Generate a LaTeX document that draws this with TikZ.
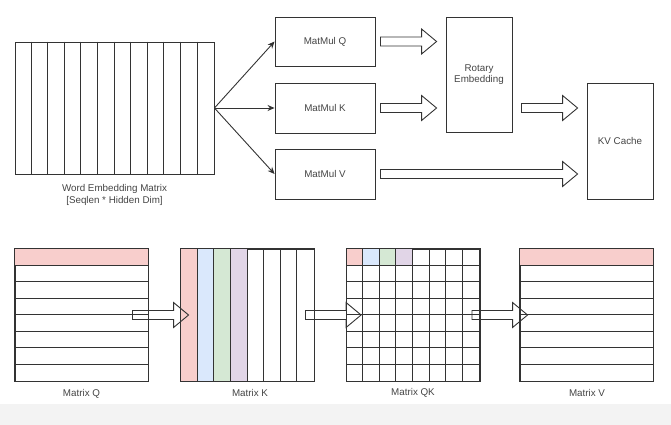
\documentclass[tikz,border=0pt]{standalone}
\usepackage{fontspec}
\setmainfont{Liberation Sans}
\usetikzlibrary{calc,arrows.meta}
\definecolor{ln}{HTML}{333333}
\definecolor{tx}{HTML}{444444}
\definecolor{cpink}{HTML}{F8CECC}
\definecolor{cblue}{HTML}{DAE8FC}
\definecolor{cgreen}{HTML}{D5E8D4}
\definecolor{cpurple}{HTML}{E1D5E7}
\definecolor{band}{HTML}{F3F3F3}
\tikzset{
  box/.style={draw=ln, line width=0.9pt, inner sep=0pt, text=tx, font=\fontsize{9.8}{11.5}\selectfont, align=center},
  mat/.style={draw=ln, line width=0.9pt, inner sep=0pt, minimum width=133pt, minimum height=132pt},
  grid/.style={draw=ln, line width=0.9pt},
  lbl/.style={text=tx, font=\fontsize{9.8}{12}\selectfont, align=center, inner sep=0pt},
  thin/.style={draw=ln, line width=0.9pt, -{Stealth[length=7pt,width=6pt]}},
  barrow/.style={draw=ln, line width=0.9pt, line join=miter,
    to path={let \p1=(\tikztostart), \p2=(\tikztotarget) in
      (\x1,\y1+4.5pt) -- (\x2-15pt,\y1+4.5pt) -- (\x2-15pt,\y1+12.5pt) -- (\x2,\y1)
      -- (\x2-15pt,\y1-12.5pt) -- (\x2-15pt,\y1-4.5pt) -- (\x1,\y1-4.5pt) -- cycle}}
}
\begin{document}
\begin{tikzpicture}[x=1pt,y=-1pt]
\useasboundingbox (0,0) rectangle (671,425);
\fill[band] (0,404) rectangle (671,425);

% Word embedding matrix
\node[mat, minimum width=199pt] (we) at (114.5,108) {};
\foreach \i in {1,...,11}
  \draw[grid] ($(we.north west)+(\i*16.583,0)$) -- ($(we.south west)+(\i*16.583,0)$);
\node[lbl] (welbl) at (114.5,195) {Word Embedding Matrix\\{}[Seqlen * Hidden Dim]};

% MatMul boxes
\node[box, minimum width=100pt, minimum height=49pt] (mq) at (325,41.5) {MatMul Q};
\node[box, minimum width=100pt, minimum height=50pt] (mk) at (325,108) {MatMul K};
\node[box, minimum width=100pt, minimum height=50pt] (mv) at (325,174) {MatMul V};
\node[box, minimum width=66pt, minimum height=115pt] (rot) at (479,74.5) {Rotary\\Embedding};
\node[box, minimum width=66pt, minimum height=116pt] (kv) at (620,141) {KV Cache};

\draw[thin] (we.east) -- (mq.west);
\draw[thin] (we.east) -- (mk.west);
\draw[thin] (we.east) -- (mv.west);

\draw[barrow] ($(mq.east)+(5,0)$) to ($(mq.east -| rot.west)+(-9,0)$);
\draw[barrow] ($(mk.east)+(5,0)$) to ($(mk.east -| rot.west)+(-9,0)$);
\draw[barrow] ($(rot.east |- mk.east)+(9,0)$) to ($(mk.east -| kv.west)+(-9,0)$);
\draw[barrow] ($(mv.east)+(5,0)$) to ($(mv.east -| kv.west)+(-9,0)$);

% Bottom row
% Matrix Q
\node[mat] (qm) at (81.5,315) {};
\fill[cpink] ($(qm.north west)+(0.5,0.5)$) rectangle ($(qm.north east)+(-0.5,16.5)$);
\foreach \i in {1,...,7}
  \draw[grid] ($(qm.north west)+(0,\i*16.5)$) -- ($(qm.north east)+(0,\i*16.5)$);
\draw[grid] (qm.north west) rectangle (qm.south east);
\node[lbl] (qlbl) at (81.5,394) {Matrix Q};

% Matrix K
\node[mat] (km) at (247.5,315) {};
\foreach \c [count=\i from 0] in {cpink,cblue,cgreen,cpurple}
  \fill[\c] ($(km.north west)+(\i*16.625,0)$) rectangle ($(km.south west)+(\i*16.625+16.625,0)$);
\foreach \i in {1,...,7}
  \draw[grid] ($(km.north west)+(\i*16.625,0)$) -- ($(km.south west)+(\i*16.625,0)$);
\draw[grid] (km.north west) rectangle (km.south east);
\node[lbl] (klbl) at (250,393) {Matrix K};

% Matrix QK
\node[mat] (qkm) at (413,315) {};
\foreach \c [count=\i from 0] in {cpink,cblue,cgreen,cpurple}
  \fill[\c] ($(qkm.north west)+(\i*16.625,0)$) rectangle ($(qkm.north west)+(\i*16.625+16.625,16.5)$);
\foreach \i in {1,...,7} {
  \draw[grid] ($(qkm.north west)+(\i*16.625,0)$) -- ($(qkm.south west)+(\i*16.625,0)$);
  \draw[grid] ($(qkm.north west)+(0,\i*16.5)$) -- ($(qkm.north east)+(0,\i*16.5)$);
}
\draw[grid] (qkm.north west) rectangle (qkm.south east);
\node[lbl] (qklbl) at (413,393) {Matrix QK};

% Matrix V
\node[mat] (vm) at (586.5,315) {};
\fill[cpink] ($(vm.north west)+(0.5,0.5)$) rectangle ($(vm.north east)+(-0.5,16.5)$);
\foreach \i in {1,...,7}
  \draw[grid] ($(vm.north west)+(0,\i*16.5)$) -- ($(vm.north east)+(0,\i*16.5)$);
\draw[grid] (vm.north west) rectangle (vm.south east);
\node[lbl] (vlbl) at (587,393) {Matrix V};

% Bottom block arrows
\draw[barrow] ($(qm.east)+(-16,0)$) to ($(km.west)+(8,0)$);
\draw[barrow] ($(km.east)+(-9,0)$) to ($(qkm.west)+(15,0)$);
\draw[barrow] ($(qkm.east)+(-8,0)$) to ($(vm.west)+(8,0)$);
\end{tikzpicture}
\end{document}
